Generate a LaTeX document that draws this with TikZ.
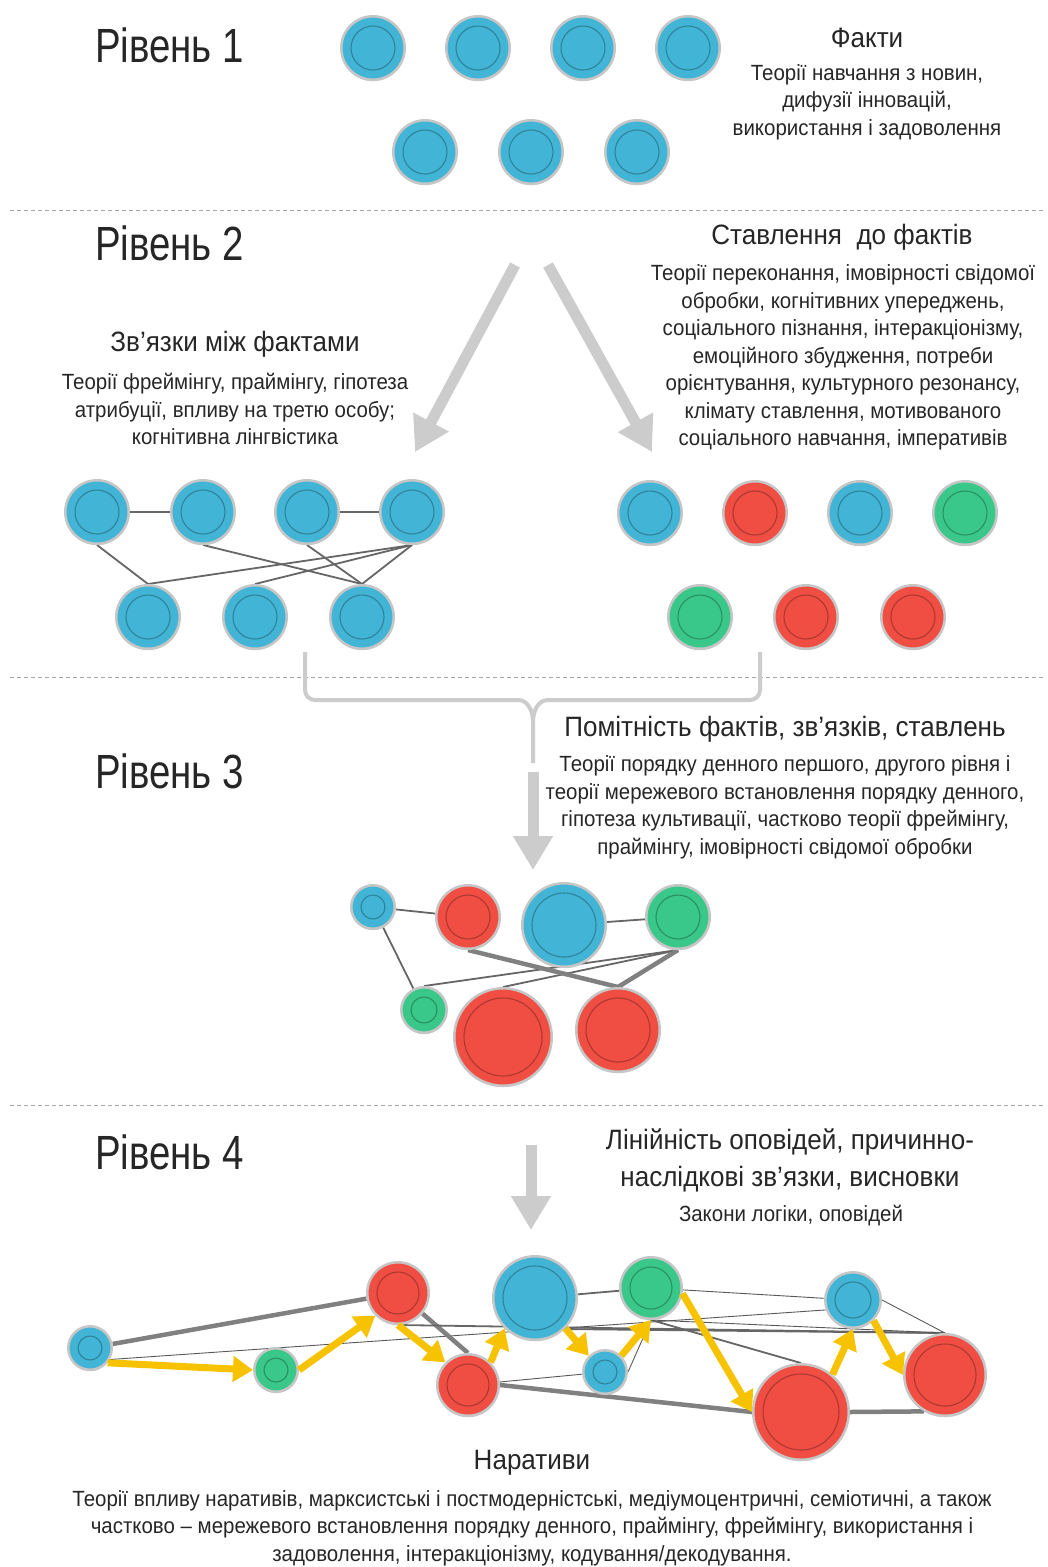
\documentclass[tikz,border=0pt]{standalone}
\usepackage{fontspec}
\setmainfont[FakeStretch=0.93]{Liberation Sans}
\newfontfamily\headfont[FakeStretch=0.8]{Liberation Sans}
\usetikzlibrary{arrows.meta,shadows}
\definecolor{ptblue}{RGB}{66,180,214}
\definecolor{ptred}{RGB}{240,78,66}
\definecolor{ptgreen}{RGB}{58,200,138}
\definecolor{ptyellow}{RGB}{247,195,0}
\definecolor{txtgray}{RGB}{38,38,38}
\definecolor{bigarrow}{RGB}{204,204,204}
\pgfdeclarelayer{bg}
\pgfsetlayers{bg,main}

\begin{document}
\begin{tikzpicture}[x=1pt,y=-1pt,
    plate/.style={circle, fill=#1, draw=gray!45, line width=2.5pt, inner sep=0pt,
      drop shadow={opacity=0.35, shadow xshift=0pt, shadow yshift=-1.5pt}},
    ring/.style={draw=#1!72!black, line width=1.1pt},
    link/.style={draw=black!60, line width=1.8pt},
    thinlink/.style={draw=black!65, line width=0.9pt},
    thicklink/.style={draw=black!50, line width=4.5pt},
    story/.style={draw=ptyellow, line width=7pt, -{Triangle[length=20pt,width=25pt]}},
    flow/.style={draw=bigarrow, line width=11pt, -{Triangle[length=34pt,width=38pt]}},
    brace/.style={draw=bigarrow, line width=4pt},
    lvl/.style={anchor=west, font=\headfont\fontsize{48}{52}\selectfont, text=txtgray, inner sep=0pt},
    ttl/.style={font=\fontsize{28}{37}\selectfont, text=txtgray, align=center, inner sep=0pt},
    txt/.style={font=\fontsize{22}{27.5}\selectfont, text=txtgray, align=center, inner sep=0pt},
    sep/.style={draw=gray!70, dash pattern=on 4pt off 3pt, line width=0.8pt}]
  \useasboundingbox (0,0) rectangle (1048,1567);

  % separators
  \draw[sep] (10,210) -- (1045,210);
  \draw[sep] (10,677) -- (1045,677);
  \draw[sep] (10,1105) -- (1045,1105);

  % level headings
  \node[lvl] (lvl1) at (95,45) {Рівень 1};
  \node[lvl] (lvl2) at (95,243) {Рівень 2};
  \node[lvl] (lvl3) at (95,771) {Рівень 3};
  \node[lvl] (lvl4) at (95,1152) {Рівень 4};

  % level 1
  \node[ttl] (factsttl) at (867,38) {Факти};
  \node[txt] (factstxt) at (867,102) {Теорії навчання з новин,\\дифузії інновацій,\\використання і задоволення};
  \foreach \n/\x/\y/\r/\c in {f1/373/48/33/ptblue, f2/478/48/33/ptblue, f3/583/48/33/ptblue,
      f4/688/48/33/ptblue, f5/425/152/33/ptblue, f6/531/152/33/ptblue, f7/637/152/33/ptblue}{
    \node[plate=\c, minimum size={(2*\r-2.5)*1pt}] (\n) at (\x,\y) {};
    \draw[ring=\c] (\n.center) circle[radius={(\r-11)*1pt}];
  }

  % level 2
  \node[ttl] (linksttl) at (235,344) {Зв’язки між фактами};
  \node[txt] (linkstxt) at (235,409) {Теорії фреймінгу, праймінгу, гіпотеза\\атрибуції, впливу на третю особу;\\когнітивна лінгвістика};
  \node[ttl] (attttl) at (842,237) {Ставлення\ \ до фактів};
  \node[txt] (atttxt) at (843,357.5) {Теорії переконання, імовірності свідомої\\обробки, когнітивних упереджень,\\соціального пізнання, інтеракціонізму,\\емоційного збудження, потреби\\орієнтування, культурного резонансу,\\клімату ставлення, мотивованого\\соціального навчання, імперативів};
  \coordinate (split1) at (515,265);
  \coordinate (split2) at (548,265);
  \coordinate (linkstip) at (415,452);
  \coordinate (atttip) at (652,452);
  \draw[flow] (split1) -- (linkstip);
  \draw[flow] (split2) -- (atttip);

  \foreach \n/\x/\y/\r/\c in {c1/97/512/33/ptblue, c2/203/512/33/ptblue, c3/307/512/33/ptblue,
      c4/412/512/33/ptblue, c5/148/617/33/ptblue, c6/255/617/33/ptblue, c7/362/617/33/ptblue,
      s1/650/513/33/ptblue, s2/755/513/33/ptred, s3/860/513/33/ptblue, s4/965/513/33/ptgreen,
      s5/700/617/33/ptgreen, s6/806/617/33/ptred, s7/913/617/33/ptred}{
    \node[plate=\c, minimum size={(2*\r-2.5)*1pt}] (\n) at (\x,\y) {};
    \draw[ring=\c] (\n.center) circle[radius={(\r-11)*1pt}];
  }
  \begin{pgfonlayer}{bg}
    \draw[link] (c1) -- (c2);
    \draw[link] (c3) -- (c4);
    \draw[link] (c1.south) -- (c5.north);
    \draw[link] (c2.south) -- (c7.north);
    \draw[link] (c3.south) -- (c7.north);
    \draw[link] (c4.south) -- (c5.north);
    \draw[link] (c4.south) -- (c6.north);
    \draw[link] (c4.south) -- (c7.north);
  \end{pgfonlayer}

  % level 3
  \draw[brace, rounded corners=10pt] (305,652) -- (305,700) -- (518,700);
  \draw[brace] (518,700) to[out=0,in=90] (533,722) -- (533,763);
  \draw[brace, rounded corners=10pt] (760,652) -- (760,700) -- (548,700);
  \draw[brace] (548,700) to[out=180,in=90] (533,722);
  \coordinate (l3top) at (533,772);
  \coordinate (l3tip) at (533,870);
  \draw[flow] (l3top) -- (l3tip);
  \node[ttl] (promttl) at (785,729) {Помітність фактів, зв’язків, ставлень};
  \node[txt] (promtxt) at (785,807.5) {Теорії порядку денного першого, другого рівня і\\теорії мережевого встановлення порядку денного,\\гіпотеза культивації, частково теорії фреймінгу,\\праймінгу, імовірності свідомої обробки};

  \foreach \n/\x/\y/\r/\c in {p1/373/907/23/ptblue, p2/468/917/33/ptred, p3/564/925/43/ptblue,
      p4/678/917/33/ptgreen, p5/424/1010/24/ptgreen, p6/503/1037/50/ptred, p7/618/1030/43/ptred}{
    \node[plate=\c, minimum size={(2*\r-2.5)*1pt}] (\n) at (\x,\y) {};
    \draw[ring=\c] (\n.center) circle[radius={(\r-11)*1pt}];
  }
  \begin{pgfonlayer}{bg}
    \draw[link] (p1) -- (p2);
    \draw[link] (p1) -- (p5);
    \draw[link] (p3) -- (p4);
    \draw[link] (p4.south) -- (p5.north);
    \draw[link] (p4.south) -- (p6.north);
    \draw[thicklink] (p4.south) -- (p7.north);
    \draw[thicklink] (p2.south) -- (p7.north);
  \end{pgfonlayer}

  % level 4
  \coordinate (l4top) at (531,1145);
  \coordinate (l4tip) at (531,1230);
  \draw[flow] (l4top) -- (l4tip);
  \node[ttl] (lintl) at (790,1160.5) {Лінійність оповідей, причинно-\\наслідкові зв’язки, висновки};
  \node[txt] (lintxt) at (791,1216) {Закони логіки, оповідей};

  \foreach \n/\x/\y/\r/\c in {na/90/1348/23/ptblue, nb/276/1370/23/ptgreen, nc/398/1293/32/ptred,
      nd/468/1385/32/ptred, ne/535/1298/43/ptblue, nf/651/1288/32/ptgreen, ng/605/1372/23/ptblue,
      nh/853/1300/29/ptblue, ni/801/1412/49/ptred, nj/945/1375/42/ptred}{
    \node[plate=\c, minimum size={(2*\r-2.5)*1pt}] (\n) at (\x,\y) {};
    \draw[ring=\c] (\n.center) circle[radius={(\r-11)*1pt}];
  }
  \begin{pgfonlayer}{bg}
    \draw[thicklink] (na) -- (nc);
    \draw[thinlink] (na.-30) -- (nh.200);
    \draw[thicklink] (nc.-40) -- (nd.north);
    \draw[link] (nc.south) -- (nj.north);
    \draw[thicklink] (nd.east) -- (ni.west);
    \draw[thinlink] (nd) -- (ng);
    \draw[link] (ne) -- (nf);
    \draw[thinlink] (nf) -- (nh);
    \draw[thinlink] (nh.east) -- (nj.north);
    \draw[link] (nf.south) -- (ni.north);
    \draw[thinlink] (ng.east) -- (nf.south);
    \draw[link] (ne.225) -- (nj.north);
    \draw[thinlink] (nf.south) -- (nj.north);
    \draw[thicklink] (ni.east) -- (nj.-120);
  \end{pgfonlayer}
  \draw[story] (na.-40) -- (nb.west);
  \draw[story] (nb.east) -- (nc.225);
  \draw[story] (nc.south) -- (nd.135);
  \draw[story] (nd.45) -- (ne.225);
  \draw[story] (ne.-45) -- (ng.135);
  \draw[story] (ng.45) -- (nf.south);
  \draw[story] (nf.-10) -- (ni.west);
  \draw[story] (ni.50) -- (nh.south);
  \draw[story] (nh.-45) -- (nj.west);

  \node[ttl] (narttl) at (532,1463) {Наративи};
  \node[txt] (nartxt) at (532,1528) {Теорії впливу наративів, марксистські і постмодерністські, медіумоцентричні, семіотичні, а також\\частково – мережевого встановлення порядку денного, праймінгу, фреймінгу, використання і\\задоволення, інтеракціонізму, кодування/декодування.};
\end{tikzpicture}
\end{document}
